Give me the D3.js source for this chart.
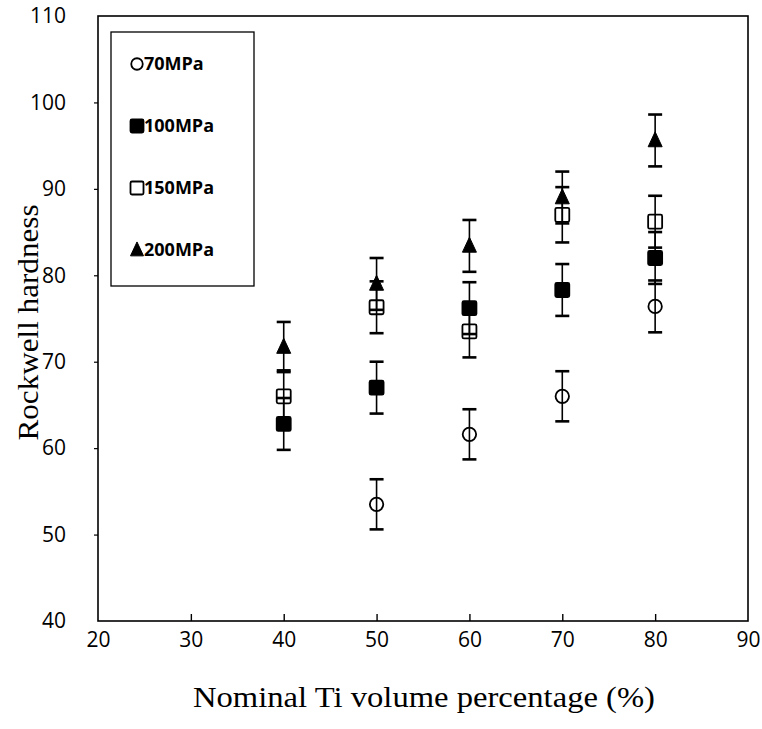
<!DOCTYPE html>
<html>
<head>
<meta charset="utf-8">
<script src="https://cdn.jsdelivr.net/npm/d3@7"></script>
<style>
  html, body { margin: 0; padding: 0; background: #fff; }
  svg { display: block; }
</style>
</head>
<body>
<svg id="chart" width="762" height="729"></svg>
<script>
// Nominal Ti volume fraction (%) of the compacts
const tiVolume = [40, 50, 60, 70, 80];

// Rockwell hardness per compaction pressure (null = not measured)
const hardness70  = [null, 53.5, 61.6, 66.0, 76.4];
const hardness100 = [62.8, 67.0, 76.2, 78.3, 82.0];
const hardness150 = [66.0, 76.3, 73.5, 87.0, 86.2];
const hardness200 = [71.7, 79.0, 83.4, 89.0, 95.6];

// Standard deviations (error bar half-lengths)
const err70  = [null, 2.9, 2.9, 2.9, 3.0];
const err100 = [3.0, 3.0, 3.0, 3.0, 3.0];
const err150 = [3.0, 3.0, 3.0, 3.2, 3.0];
const err200 = [2.9, 3.0, 3.0, 3.0, 3.0];

const seriesNames = ["70MPa", "100MPa", "150MPa", "200MPa"];
const xTicks = [20, 30, 40, 50, 60, 70, 80, 90];
const yTicks = [40, 50, 60, 70, 80, 90, 100, 110];

const xTitle = "Nominal Ti volume percentage (%)";
const yTitle = "Rockwell hardness";

const series = [
  { name: seriesNames[0], values: hardness70,  errors: err70,  shape: "circle",   filled: false },
  { name: seriesNames[1], values: hardness100, errors: err100, shape: "square",   filled: true  },
  { name: seriesNames[2], values: hardness150, errors: err150, shape: "square",   filled: false },
  { name: seriesNames[3], values: hardness200, errors: err200, shape: "triangle", filled: true  }
];

const svg = d3.select("#chart");
const plot = { left: 98, right: 748, top: 16, bottom: 621 };

const x = d3.scaleLinear().domain([20, 90]).range([plot.left, plot.right]);
const y = d3.scaleLinear().domain([40, 110]).range([plot.bottom, plot.top]);

const tickFont = "'Open Sans', 'DejaVu Sans', sans-serif";
const titleFont = "'Liberation Serif', 'Times New Roman', serif";

// Plot frame
svg.append("rect")
  .attr("x", plot.left).attr("y", plot.top)
  .attr("width", plot.right - plot.left).attr("height", plot.bottom - plot.top)
  .attr("fill", "none").attr("stroke", "#000").attr("stroke-width", 1.6);

// Bottom axis: inward ticks, labels below
const xAxis = svg.append("g")
  .attr("transform", `translate(0,${plot.bottom})`)
  .call(d3.axisBottom(x).tickValues(xTicks).tickSizeInner(-7).tickSizeOuter(0).tickPadding(11));
xAxis.select(".domain").remove();
xAxis.selectAll(".tick line").attr("stroke", "#000").attr("stroke-width", 1.4)
  .filter(d => d === 20 || d === 90).remove();
xAxis.selectAll("text")
  .attr("font-family", tickFont).attr("font-weight", 500).attr("font-size", 21).attr("fill", "#000");

// Left axis: short ticks, labels to the left
const yAxis = svg.append("g")
  .attr("transform", `translate(${plot.left},0)`)
  .call(d3.axisLeft(y).tickValues(yTicks).tickSizeInner(4).tickSizeOuter(0).tickPadding(28));
yAxis.select(".domain").remove();
yAxis.selectAll(".tick line").attr("stroke", "#000").attr("stroke-width", 1.2)
  .filter(d => d === 40 || d === 110).remove();
yAxis.selectAll("text")
  .attr("font-family", tickFont).attr("font-weight", 500).attr("font-size", 21).attr("fill", "#000");

// Axis titles
svg.append("text")
  .attr("x", 424).attr("y", 707)
  .attr("text-anchor", "middle")
  .attr("textLength", 462).attr("lengthAdjust", "spacingAndGlyphs")
  .attr("font-family", titleFont).attr("font-size", 30).attr("fill", "#000")
  .text(xTitle);

svg.append("text")
  .attr("transform", `translate(38,${(plot.top + plot.bottom) / 2 + 4}) rotate(-90)`)
  .attr("text-anchor", "middle")
  .attr("textLength", 236).attr("lengthAdjust", "spacingAndGlyphs")
  .attr("font-family", titleFont).attr("font-size", 30).attr("fill", "#000")
  .text(yTitle);

// Marker drawing helper
function drawMarker(g, shape, filled, cx, cy, size) {
  const fill = filled ? "#000" : "none";
  if (shape === "circle") {
    g.append("circle").attr("cx", cx).attr("cy", cy).attr("r", size * 0.48)
      .attr("fill", fill).attr("stroke", "#000").attr("stroke-width", 1.8);
  } else if (shape === "square") {
    g.append("rect").attr("x", cx - size / 2).attr("y", cy - size / 2)
      .attr("width", size).attr("height", size).attr("rx", 1.5)
      .attr("fill", fill).attr("stroke", "#000").attr("stroke-width", 1.8);
  } else {
    g.append("path")
      .attr("d", `M${cx},${cy - size * 0.62} L${cx + size / 2},${cy + size * 0.45} L${cx - size / 2},${cy + size * 0.45} Z`)
      .attr("fill", fill).attr("stroke", "#000").attr("stroke-width", 1);
  }
}

// Error bars and markers
const marks = svg.append("g");
series.forEach(s => {
  const g = marks.append("g");
  tiVolume.forEach((tv, i) => {
    const v = s.values[i];
    if (v == null) return;
    const e = s.errors[i];
    const cx = x(tv);
    const yTop = y(v + e), yBot = y(v - e);
    g.append("line").attr("x1", cx).attr("x2", cx).attr("y1", yTop).attr("y2", yBot)
      .attr("stroke", "#000").attr("stroke-width", 1.6);
    [yTop, yBot].forEach(yy => {
      g.append("line").attr("x1", cx - 7).attr("x2", cx + 7).attr("y1", yy).attr("y2", yy)
        .attr("stroke", "#000").attr("stroke-width", 2.6);
    });
  });
});
series.forEach(s => {
  const g = marks.append("g");
  tiVolume.forEach((tv, i) => {
    const v = s.values[i];
    if (v == null) return;
    drawMarker(g, s.shape, s.filled, x(tv), y(v), 14);
  });
});

// Legend
const legend = svg.append("g");
legend.append("rect")
  .attr("x", 111).attr("y", 32).attr("width", 143).attr("height", 254)
  .attr("fill", "#fff").attr("stroke", "#000").attr("stroke-width", 1.3);
series.forEach((s, i) => {
  const ly = 64 + i * 62;
  drawMarker(legend, s.shape, s.filled, 137, ly, s.shape === "circle" ? 12 : 13);
  legend.append("text")
    .attr("x", 144).attr("y", ly).attr("dy", "0.36em")
    .attr("font-family", tickFont).attr("font-weight", 700).attr("font-size", 18)
    .attr("fill", "#000")
    .text(s.name);
});
</script>
</body>
</html>
